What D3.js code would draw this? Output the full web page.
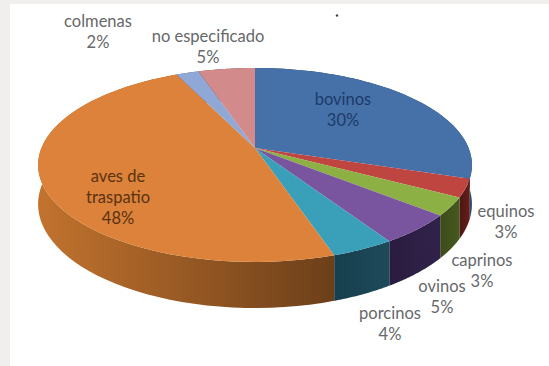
<!DOCTYPE html>
<html lang="es">
<head>
<meta charset="utf-8">
<title>Existencias por especie</title>
<script src="https://cdn.jsdelivr.net/npm/d3@7/dist/d3.min.js"></script>
<style>
  html, body { margin: 0; padding: 0; background: #f0efee; }
  svg { display: block; }
  text { font-family: Lato, "Open Sans", sans-serif; font-size: 16.5px; text-anchor: middle; }
</style>
</head>
<body>
<svg id="chart" width="549" height="366"></svg>
<script>
// Composition of backyard livestock, percent per species
const categories = ["bovinos", "equinos", "caprinos", "ovinos", "porcinos", "aves de traspatio", "colmenas", "no especificado"];
const shares = [30, 3, 3, 5, 4, 48, 2, 5];

// Appearance per slice
const topColors = ["#4571a8", "#bf4540", "#8db044", "#7a559f", "#3a9fb8", "#dc823a", "#8fa8d6", "#d28a8a"];
const wallLight = ["#2c4a70", "#641f1b", "#46591f", "#30224a", "#1d4a59", "#c2732e", "#55658a", "#85504f"];
const wallDark = ["#22395a", "#4c1613", "#3c4c1a", "#2a1c40", "#173f4e", "#6c3f19", "#45546f", "#6c3f3e"];

// Label lines and anchor points, top line first
const labelLines = [["bovinos", "30%"], ["equinos", "3%"], ["caprinos", "3%"], ["ovinos", "5%"], ["porcinos", "4%"], ["aves de", "traspatio", "48%"], ["colmenas", "2%"], ["no especificado", "5%"]];
const labelAnchors = [[343, 105], [506, 217], [482, 266], [442, 292], [390, 319], [118, 182], [98, 27], [208, 42]];
const labelColors = ["#1e3a68", "#66686b", "#66686b", "#66686b", "#66686b", "#5a3212", "#66686b", "#66686b"];
const lineStep = 20.8;

const width = 549, height = 366;
const svg = d3.select("#chart");

// Perspective projection of the pie disc onto the page
const view = { cx: 255, cy: 148, a: 213.6, b: 94, k: 0.175, depth: 38 };
const project = (angle, r, lower) => {
  const u = r * Math.sin(angle), v = -r * Math.cos(angle);
  const w = 1 - view.k * v;
  return [view.cx + view.a * u / w, view.cy + (view.b * v + (lower ? view.depth : 0)) / w];
};

const arcAngles = (s) => d3.range(0, 61).map(i => s.startAngle + (s.endAngle - s.startAngle) * i / 60);
const pathOf = d3.line();

const slices = d3.pie().value(d => d).sort(null)(shares);

// Page backdrop: grey slide with a white panel
svg.append("rect").attr("width", width).attr("height", height).attr("fill", "#f0efee");
svg.append("rect").attr("x", 10).attr("y", 4).attr("width", width - 10).attr("height", height - 4).attr("fill", "#ffffff");
svg.append("circle").attr("cx", 337).attr("cy", 15.5).attr("r", 1.2).attr("fill", "#444");

// One horizontal shading per wall segment
const defs = svg.append("defs");
slices.forEach((s, i) => {
  const xs = arcAngles(s).map(a => project(a, 1, false)[0]);
  const g = defs.append("linearGradient").attr("id", `wall-${i}`)
    .attr("gradientUnits", "userSpaceOnUse")
    .attr("x1", d3.min(xs)).attr("x2", d3.max(xs)).attr("y1", 0).attr("y2", 0);
  // The large slice runs from its lit left end to a dark right end
  const leftIsLight = i === 5;
  g.append("stop").attr("offset", 0).attr("stop-color", leftIsLight ? wallLight[i] : wallDark[i]);
  g.append("stop").attr("offset", 1).attr("stop-color", leftIsLight ? wallDark[i] : wallLight[i]);
});

// Side walls first, disc on top
svg.append("g").selectAll("path").data(slices).join("path")
  .attr("d", s => {
    const angles = arcAngles(s);
    const upper = angles.map(a => project(a, 1, false));
    const lower = angles.slice().reverse().map(a => project(a, 1, true));
    return pathOf(upper.concat(lower)) + "Z";
  })
  .attr("fill", (s, i) => `url(#wall-${i})`);

svg.append("g").selectAll("path").data(slices).join("path")
  .attr("d", s => pathOf([[view.cx, view.cy]].concat(arcAngles(s).map(a => project(a, 1, false)))) + "Z")
  .attr("fill", (s, i) => topColors[i]);

// Category and percentage labels
svg.append("g").selectAll("text").data(categories).join("text")
  .attr("fill", (d, i) => labelColors[i])
  .each(function (d, i) {
    d3.select(this).selectAll("tspan").data(labelLines[i]).join("tspan")
      .attr("x", labelAnchors[i][0])
      .attr("y", (line, j) => labelAnchors[i][1] + j * lineStep)
      .text(line => line);
  });
</script>
</body>
</html>
